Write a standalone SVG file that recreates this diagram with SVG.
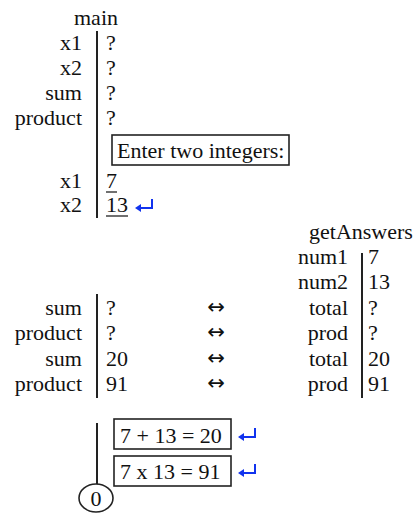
<svg xmlns="http://www.w3.org/2000/svg" width="414" height="514" viewBox="0 0 414 514">
  <style>
    text { font-family: "Liberation Serif", "Times New Roman", serif; font-size: 22px; fill: #111; }
    .lbl { text-anchor: end; }
    .bar { stroke: #222; stroke-width: 2; fill: none; }
    .box { stroke: #222; stroke-width: 1.6; fill: #fff; }
    .ret { stroke: #1133ee; stroke-width: 2; fill: none; }
    .head { fill: #1133ee; }
    .uline { stroke: #111; stroke-width: 1.2; }
    .swap { text-anchor: middle; font-family: "DejaVu Sans", sans-serif; font-size: 21px; }
  </style>
  <defs>
    <!-- "return" key symbol: tick up on the right, arrow pointing left -->
    <g id="enter">
      <path class="ret" d="M17 0 V9 H4"/>
      <path class="head" d="M0 9 L6 5 L6 13 Z"/>
    </g>
  </defs>

  <!-- main: variables before input -->
  <g id="main-frame">
    <text x="74" y="25">main</text>
    <line class="bar" x1="97" y1="31" x2="97" y2="218"/>
    <text class="lbl" x="82" y="50">x1</text>
    <text class="lbl" x="82" y="75">x2</text>
    <text class="lbl" x="82" y="100">sum</text>
    <text class="lbl" x="82" y="125">product</text>
    <text x="106" y="50">?</text>
    <text x="106" y="75">?</text>
    <text x="106" y="100">?</text>
    <text x="106" y="125">?</text>
    <text class="lbl" x="82" y="188">x1</text>
    <text class="lbl" x="82" y="212">x2</text>
    <text x="106" y="188">7</text>
    <line class="uline" x1="106" y1="192" x2="117" y2="192"/>
    <text x="106" y="212">13</text>
    <line class="uline" x1="106" y1="216" x2="128" y2="216"/>
    <use href="#enter" x="135" y="199"/>
  </g>

  <!-- prompt shown to the user -->
  <g id="prompt">
    <rect class="box" x="112" y="135" width="177" height="30"/>
    <text x="117" y="158">Enter two integers:</text>
  </g>

  <!-- main: reference variables during the call -->
  <g id="main-refs">
    <line class="bar" x1="97" y1="294" x2="97" y2="398"/>
    <text class="lbl" x="82" y="315">sum</text>
    <text class="lbl" x="82" y="340">product</text>
    <text class="lbl" x="82" y="366">sum</text>
    <text class="lbl" x="82" y="391">product</text>
    <text x="106" y="315">?</text>
    <text x="106" y="340">?</text>
    <text x="106" y="366">20</text>
    <text x="106" y="391">91</text>
  </g>

  <!-- getAnswers frame -->
  <g id="getAnswers">
    <text x="309" y="239">getAnswers</text>
    <line class="bar" x1="362" y1="253" x2="362" y2="398"/>
    <text class="lbl" x="348" y="264">num1</text>
    <text class="lbl" x="348" y="289">num2</text>
    <text class="lbl" x="348" y="315">total</text>
    <text class="lbl" x="348" y="340">prod</text>
    <text class="lbl" x="348" y="366">total</text>
    <text class="lbl" x="348" y="391">prod</text>
    <text x="368" y="264">7</text>
    <text x="368" y="289">13</text>
    <text x="368" y="315">?</text>
    <text x="368" y="340">?</text>
    <text x="368" y="366">20</text>
    <text x="368" y="391">91</text>
  </g>

  <!-- reference links between the two frames -->
  <g id="connectors">
    <text class="swap" x="216" y="314">↔</text>
    <text class="swap" x="216" y="339">↔</text>
    <text class="swap" x="216" y="365">↔</text>
    <text class="swap" x="216" y="390">↔</text>
  </g>

  <!-- program output and return -->
  <g id="output">
    <line class="bar" x1="97" y1="423" x2="97" y2="485"/>
    <rect class="box" x="114" y="419" width="117" height="30"/>
    <text x="120" y="443">7 + 13 = 20</text>
    <use href="#enter" x="238" y="428"/>
    <rect class="box" x="114" y="456" width="117" height="30"/>
    <text x="120" y="479">7 x 13 = 91</text>
    <use href="#enter" x="238" y="464"/>
  </g>

  <g id="return-value">
    <ellipse cx="96" cy="498" rx="17" ry="14" fill="#fff" stroke="#222" stroke-width="1.6"/>
    <text x="96" y="506" text-anchor="middle">0</text>
  </g>
</svg>
